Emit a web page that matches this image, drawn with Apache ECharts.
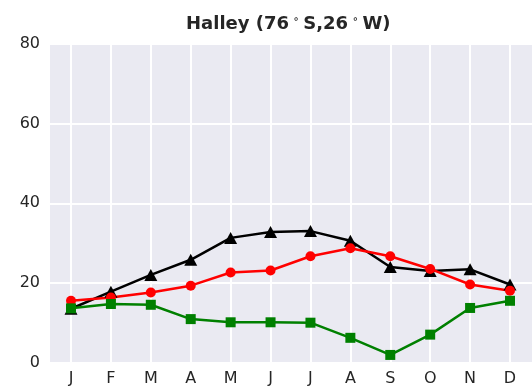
<!DOCTYPE html>
<html>
<head>
<meta charset="utf-8">
<script src="https://cdn.jsdelivr.net/npm/echarts@6/dist/echarts.min.js"></script>
<style>
  html, body { margin: 0; padding: 0; background: #fff; }
  #chart { width: 532px; height: 389px; }
</style>
</head>
<body>
<div id="chart"></div>
<script>
// Monthly values for Halley station
const months = ['J', 'F', 'M', 'A', 'M', 'J', 'J', 'A', 'S', 'O', 'N', 'D'];
const blackSeries = [13.5, 17.8, 22.0, 25.8, 31.3, 32.8, 33.0, 30.6, 24.0, 23.0, 23.4, 19.6];
const redSeries = [15.5, 16.3, 17.6, 19.3, 22.6, 23.1, 26.7, 28.7, 26.7, 23.5, 19.6, 18.0];
const greenSeries = [13.6, 14.7, 14.5, 10.9, 10.1, 10.1, 10.0, 6.2, 1.9, 7.0, 13.7, 15.5];
const yTicks = [0, 20, 40, 60, 80];

const textColor = '#262626';
const font = 'DejaVu Sans';

function toPoints(values) {
  return values.map((v, i) => [i, v]);
}

const chart = echarts.init(document.getElementById('chart'), null, { renderer: 'canvas' });

chart.setOption({
  animation: false,
  backgroundColor: '#ffffff',
  title: {
    text: '{a|Halley (76}{s|∘}{a|S,26}{s|∘}{a|W)}',
    left: 186,
    top: 14,
    textStyle: {
      rich: {
        a: { fontFamily: font, fontWeight: 'bold', fontSize: 18, color: textColor, lineHeight: 20 },
        s: { fontFamily: font, fontWeight: 'bold', fontSize: 10, color: textColor, lineHeight: 20,
             verticalAlign: 'top', padding: [0, 4, 6, 4] }
      }
    },
    padding: 0
  },
  grid: [
    // background panel with horizontal grid lines
    { left: 50, right: 0, top: 44, bottom: 26.5, backgroundColor: '#EAEAF2', show: true, borderWidth: 0 },
    // data panel, inset by the x margins
    { left: 71, right: 22, top: 44, bottom: 26.5, show: false }
  ],
  xAxis: [
    { gridIndex: 0, type: 'value', min: 0, max: 1, show: false },
    {
      gridIndex: 1, type: 'value', min: 0, max: 11, interval: 1,
      axisLine: { show: false }, axisTick: { show: false },
      splitLine: { show: true, lineStyle: { color: '#ffffff', width: 2 } },
      axisLabel: {
        margin: 8, color: textColor, fontFamily: font, fontSize: 16,
        formatter: v => months[v]
      }
    }
  ],
  yAxis: [
    {
      gridIndex: 0, type: 'value', min: yTicks[0], max: yTicks[yTicks.length - 1], interval: 20,
      axisLine: { show: false }, axisTick: { show: false },
      splitLine: { show: true, lineStyle: { color: '#ffffff', width: 2 } },
      axisLabel: { margin: 10, color: textColor, fontFamily: font, fontSize: 16, padding: [6, 0, 0, 0] }
    },
    { gridIndex: 1, type: 'value', min: 0, max: 80, show: false }
  ],
  series: [
    {
      type: 'line', xAxisIndex: 1, yAxisIndex: 1,
      data: toPoints(blackSeries),
      symbol: 'triangle', symbolSize: [13, 12],
      lineStyle: { color: '#000000', width: 2.5 },
      itemStyle: { color: '#000000' }
    },
    {
      type: 'line', xAxisIndex: 1, yAxisIndex: 1,
      data: toPoints(redSeries),
      symbol: 'circle', symbolSize: 10,
      lineStyle: { color: '#ff0000', width: 2.5 },
      itemStyle: { color: '#ff0000' }
    },
    {
      type: 'line', xAxisIndex: 1, yAxisIndex: 1,
      data: toPoints(greenSeries),
      symbol: 'rect', symbolSize: 10,
      lineStyle: { color: '#008000', width: 2.5 },
      itemStyle: { color: '#008000' }
    }
  ]
});
</script>
</body>
</html>
